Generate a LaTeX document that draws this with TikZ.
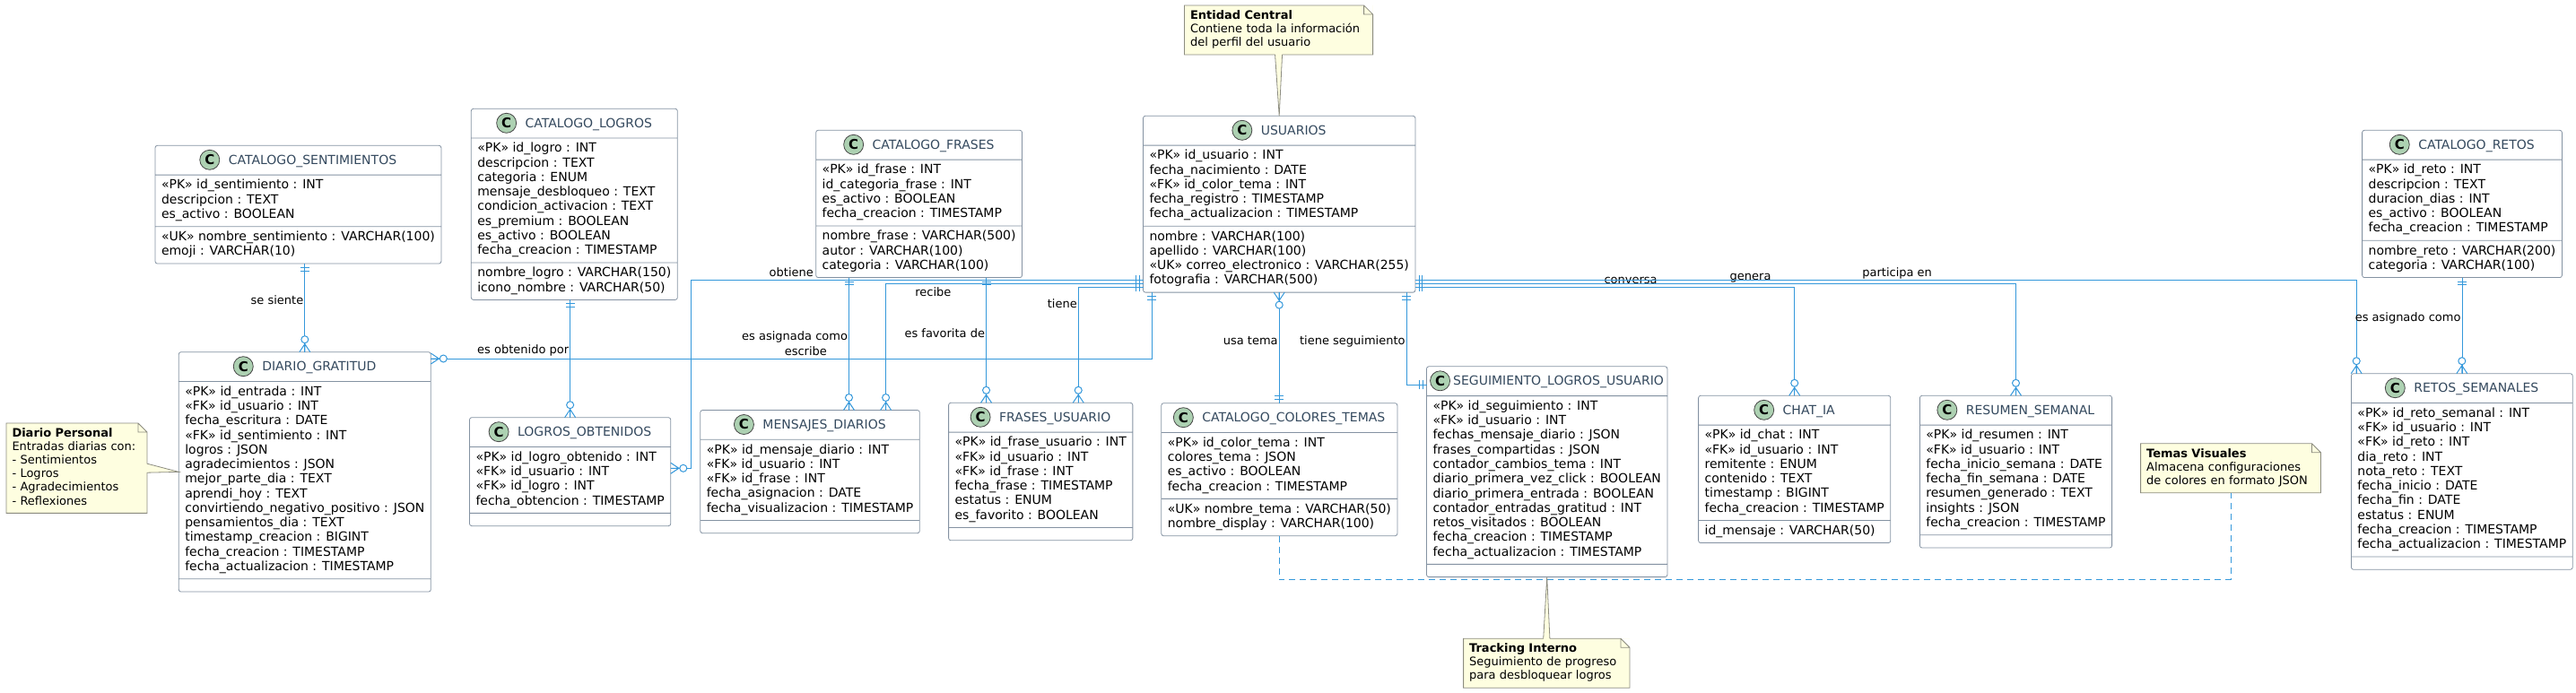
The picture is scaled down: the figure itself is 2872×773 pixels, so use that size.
\documentclass[tikz,border=0pt]{standalone}
\usepackage{fontspec}
\setmainfont{DejaVu Sans}
\usetikzlibrary{shapes.multipart,positioning,calc}

\definecolor{linea}{RGB}{52,152,219}
\definecolor{borde}{RGB}{132,146,162}
\definecolor{titulo}{RGB}{52,73,94}
\definecolor{verdeC}{RGB}{173,209,178}
\definecolor{bordeC}{RGB}{70,70,70}
\definecolor{notafondo}{RGB}{254,254,224}
\definecolor{notaborde}{RGB}{140,140,128}

\newcommand{\fuente}{\fontsize{14pt}{16.27pt}\selectfont}
\newcommand{\fuenteN}{\fontsize{13pt}{15.13pt}\selectfont}
\newcommand{\filas}[1]{\strut#1\strut}

% tabla: [hueco] nombre, posicion, ancho, titulo, campos, claves
\newcommand{\tabla}[7][10pt]{%
  \node[tabla, minimum width=#4pt] (#2) at (#3) {\rule[-6.9pt]{0pt}{24pt}\hspace*{1pt}\nodepart{two}\filas{#6}\nodepart{three}\if\relax\detokenize{#7}\relax\else\filas{#7}\fi};
  \node[titulo, anchor=base] (#2T) at ([xshift={11pt+0.5*#1}, yshift=-21.1pt]#2.north) {#5};
  \node[claseC, left=#1 of #2T] (#2C) {C};
}

% nota: nombre, posicion, ancho del texto, texto
\newcommand{\nota}[4]{%
  \node[nota, text width=#3pt] (#1) at (#2) {\strut#4\strut};
  \fill[white] ([xshift=-10pt]#1.north east) -- (#1.north east) -- ([yshift=-10pt]#1.north east) -- cycle;
  \draw[notaborde, line width=0.8pt] (#1.south west) -- (#1.north west) -- ([xshift=-10pt]#1.north east)
    -- ([yshift=-10pt]#1.north east) -- (#1.south east) -- cycle
    ([xshift=-10pt]#1.north east) |- ([yshift=-10pt]#1.north east);
}

\begin{document}
\begin{tikzpicture}[x=1pt, y=-1pt,
  tabla/.style={rectangle split, rectangle split parts=3, rectangle split part align={center,left,left},
    rectangle split empty part height=0pt, rectangle split empty part depth=0pt,
    draw=borde, line width=0.8pt, fill=white, rounded corners=2.5pt,
    inner xsep=7pt, inner ysep=4pt, outer sep=0pt, anchor=north west, align=left, font=\fuente},
  titulo/.style={text=titulo, font=\fuente, inner sep=0pt, outer sep=0pt, text height=10.2pt, text depth=0pt},
  claseC/.style={circle, draw=bordeC, fill=verdeC, line width=0.8pt, minimum size=22pt, inner sep=0pt,
    outer sep=0pt, font=\fontsize{15pt}{15pt}\selectfont\bfseries},
  nota/.style={fill=notafondo, inner xsep=6.5pt, inner ysep=4.8pt, outer sep=0pt, anchor=north west,
    align=left, font=\fuenteN},
  rel/.style={draw=linea, line width=1pt},
  etq/.style={font=\fuenteN, inner sep=1pt},
  uno/.pic={\draw[linea, line width=1pt] (4.5,-5) -- (4.5,5) (8,-5) -- (8,5);},
  muchos/.pic={\draw[linea, line width=1pt] (0,-6) -- (9,0) -- (0,6) (0,0) -- (10,0);
    \draw[linea, line width=1pt, fill=white] (14,0) circle[radius=4pt];}]

\fill[white] (0,0) rectangle (2872,773);
\useasboundingbox (0,0) rectangle (2872,773);

% catalogos y entidad central
\tabla{sen}{173,162.3}{317.3}{CATALOGO\_SENTIMIENTOS}{«PK» id\_sentimiento : INT\\ descripcion : TEXT\\ es\_activo : BOOLEAN}{«UK» nombre\_sentimiento : VARCHAR(100)\\ emoji : VARCHAR(10)}
\tabla{log}{525.3,121.3}{229}{CATALOGO\_LOGROS}{«PK» id\_logro : INT\\ descripcion : TEXT\\ categoria : ENUM\\ mensaje\_desbloqueo : TEXT\\ condicion\_activacion : TEXT\\ es\_premium : BOOLEAN\\ es\_activo : BOOLEAN\\ fecha\_creacion : TIMESTAMP}{nombre\_logro : VARCHAR(150)\\ icono\_nombre : VARCHAR(50)}
\tabla{fra}{909.7,145.3}{227.6}{CATALOGO\_FRASES}{«PK» id\_frase : INT\\ id\_categoria\_frase : INT\\ es\_activo : BOOLEAN\\ fecha\_creacion : TIMESTAMP}{nombre\_frase : VARCHAR(500)\\ autor : VARCHAR(100)\\ categoria : VARCHAR(100)}
\tabla{usu}{1274.5,129.3}{301.8}{USUARIOS}{«PK» id\_usuario : INT\\ fecha\_nacimiento : DATE\\ «FK» id\_color\_tema : INT\\ fecha\_registro : TIMESTAMP\\ fecha\_actualizacion : TIMESTAMP}{nombre : VARCHAR(100)\\ apellido : VARCHAR(100)\\ «UK» correo\_electronico : VARCHAR(255)\\ fotografia : VARCHAR(500)}
\tabla{ret}{2633.6,145.3}{220.4}{CATALOGO\_RETOS}{«PK» id\_reto : INT\\ descripcion : TEXT\\ duracion\_dias : INT\\ es\_activo : BOOLEAN\\ fecha\_creacion : TIMESTAMP}{nombre\_reto : VARCHAR(200)\\ categoria : VARCHAR(100)}

% tablas de detalle
\tabla{dia}{199.3,392.7}{277}{DIARIO\_GRATITUD}{«PK» id\_entrada : INT\\ «FK» id\_usuario : INT\\ fecha\_escritura : DATE\\ «FK» id\_sentimiento : INT\\ logros : JSON\\ agradecimientos : JSON\\ mejor\_parte\_dia : TEXT\\ aprendi\_hoy : TEXT\\ convirtiendo\_negativo\_positivo : JSON\\ pensamientos\_dia : TEXT\\ timestamp\_creacion : BIGINT\\ fecha\_creacion : TIMESTAMP\\ fecha\_actualizacion : TIMESTAMP}{}
\tabla{lob}{523.5,465.7}{221.2}{LOGROS\_OBTENIDOS}{«PK» id\_logro\_obtenido : INT\\ «FK» id\_usuario : INT\\ «FK» id\_logro : INT\\ fecha\_obtencion : TIMESTAMP}{}
\tabla{men}{780.8,457.5}{241.2}{MENSAJES\_DIARIOS}{«PK» id\_mensaje\_diario : INT\\ «FK» id\_usuario : INT\\ «FK» id\_frase : INT\\ fecha\_asignacion : DATE\\ fecha\_visualizacion : TIMESTAMP}{}
\tabla{fus}{1057.6,449.3}{201.4}{FRASES\_USUARIO}{«PK» id\_frase\_usuario : INT\\ «FK» id\_usuario : INT\\ «FK» id\_frase : INT\\ fecha\_frase : TIMESTAMP\\ estatus : ENUM\\ es\_favorito : BOOLEAN}{}
\tabla{col}{1294.8,449.7}{260.6}{CATALOGO\_COLORES\_TEMAS}{«PK» id\_color\_tema : INT\\ colores\_tema : JSON\\ es\_activo : BOOLEAN\\ fecha\_creacion : TIMESTAMP}{«UK» nombre\_tema : VARCHAR(50)\\ nombre\_display : VARCHAR(100)}
\tabla[3.6pt]{seg}{1590.5,408.8}{267}{SEGUIMIENTO\_LOGROS\_USUARIO}{«PK» id\_seguimiento : INT\\ «FK» id\_usuario : INT\\ fechas\_mensaje\_diario : JSON\\ frases\_compartidas : JSON\\ contador\_cambios\_tema : INT\\ diario\_primera\_vez\_click : BOOLEAN\\ diario\_primera\_entrada : BOOLEAN\\ contador\_entradas\_gratitud : INT\\ retos\_visitados : BOOLEAN\\ fecha\_creacion : TIMESTAMP\\ fecha\_actualizacion : TIMESTAMP}{}
\tabla{cha}{1893.6,441.3}{211.4}{CHAT\_IA}{«PK» id\_chat : INT\\ «FK» id\_usuario : INT\\ remitente : ENUM\\ contenido : TEXT\\ timestamp : BIGINT\\ fecha\_creacion : TIMESTAMP}{id\_mensaje : VARCHAR(50)}
\tabla{res}{2140.4,441.3}{211.7}{RESUMEN\_SEMANAL}{«PK» id\_resumen : INT\\ «FK» id\_usuario : INT\\ fecha\_inicio\_semana : DATE\\ fecha\_fin\_semana : DATE\\ resumen\_generado : TEXT\\ insights : JSON\\ fecha\_creacion : TIMESTAMP}{}
\tabla{rse}{2621.4,416.7}{245.2}{RETOS\_SEMANALES}{«PK» id\_reto\_semanal : INT\\ «FK» id\_usuario : INT\\ «FK» id\_reto : INT\\ dia\_reto : INT\\ nota\_reto : TEXT\\ fecha\_inicio : DATE\\ fecha\_fin : DATE\\ estatus : ENUM\\ fecha\_creacion : TIMESTAMP\\ fecha\_actualizacion : TIMESTAMP}{}

% notas
\nota{nDia}{7,472}{144}{\textbf{Diario Personal}\\ Entradas diarias con:\\ - Sentimientos\\ - Logros\\ - Agradecimientos\\ - Reflexiones}
\nota{nCen}{1320.5,6}{197.1}{\textbf{Entidad Central}\\ Contiene toda la información\\ del perfil del usuario}
\nota{nTra}{1631.6,712.3}{172.4}{\textbf{Tracking Interno}\\ Seguimiento de progreso\\ para desbloquear logros}
\nota{nTem}{2386.6,494.7}{187.8}{\textbf{Temas Visuales}\\ Almacena configuraciones\\ de colores en formato JSON}

% puntos de enganche
\coordinate (usuW1) at ([yshift=-183pt]usu.north west);
\coordinate (usuW2) at ([yshift=-187pt]usu.north west);
\coordinate (usuW3) at ([yshift=-191pt]usu.north west);
\coordinate (usuE1) at ([yshift=-183pt]usu.north east);
\coordinate (usuE2) at ([yshift=-187pt]usu.north east);
\coordinate (usuE3) at ([yshift=-191pt]usu.north east);
\coordinate (usuB1) at ([xshift=9.7pt]usu.south west);
\coordinate (usuB3) at ([xshift=-9.8pt]usu.south east);
\coordinate (fraB1) at ([xshift=36.8pt]fra.south west);
\coordinate (fraB2) at ([xshift=-40pt]fra.south east);
\coordinate (menT2) at ([xshift=-37.7pt]men.north east);
\coordinate (fusT2) at ([xshift=-60.6pt]fus.north east);
\coordinate (rseT1) at ([xshift=5.8pt]rse.north west);
\coordinate (lobE) at ([yshift=-56.6pt]lob.north east);
\coordinate (diaE) at ([yshift=-7.3pt]dia.north east);
\coordinate (segW) at ([yshift=-20.5pt]seg.north west);

% relaciones
\draw[rel] (dia.north |- sen.south) -- node[etq, pos=0.41, anchor=east] (eSiente) {se siente} (dia.north);
\draw[rel] (lob.north |- log.south) -- node[etq, pos=0.434, anchor=east] (eObtenido) {es obtenido por} (lob.north);
\draw[rel] (usuW1) -| node[etq, pos=0.389, anchor=base, yshift=4pt] (eObtiene) {obtiene} ([xshift=22.6pt]lobE) -- (lobE);
\draw[rel] (usuW2) -| node[etq, pos=0.408, anchor=base, yshift=-14pt] (eRecibe) {recibe} (menT2);
\draw[rel] (fraB1) -- node[etq, pos=0.451, anchor=east] (eAsignada) {es asignada como} (fraB1 |- men.north);
\draw[rel] (usuW3) -| node[etq, pos=0.572, anchor=east] (eTiene) {tiene} (fusT2);
\draw[rel] (fraB2) -- node[etq, pos=0.445, anchor=east] (eFavorita) {es favorita de} (fraB2 |- fus.north);
\draw[rel] (usuB1) |- node[etq, pos=0.74, anchor=base, yshift=4pt] (eEscribe) {escribe} (diaE);
\draw[rel] (usu.south) -- node[etq, pos=0.433, anchor=east] (eTema) {usa tema} (usu.south |- col.north);
\draw[rel] (usuB3) |- node[etq, pos=0.267, anchor=east] (eSeguim) {tiene seguimiento} (segW);
\draw[rel] (usuE3) -| node[etq, pos=0.284, anchor=base, yshift=4pt] (eConversa) {conversa} (cha.north);
\draw[rel] (usuE2) -| node[etq, pos=0.279, anchor=base, yshift=4pt] (eGenera) {genera} (res.north);
\draw[rel] (usuE1) -| node[etq, pos=0.256, anchor=base, yshift=4pt] (eParticipa) {participa en} (rseT1);
\draw[rel] (ret.south) -- node[etq, pos=0.421, anchor=east] (eAsignado) {es asignado como} (ret.south |- rse.north);
\draw[rel, dash pattern=on 7pt off 5pt] (col.south) -- ++(0,49) -| (nTem.south);

% cardinalidades
\pic[rotate=-90] at (dia.north |- sen.south) {uno};
\pic[rotate=90] at (dia.north) {muchos};
\pic[rotate=-90] at (lob.north |- log.south) {uno};
\pic[rotate=90] at (lob.north) {muchos};
\pic[rotate=180] at (usuW1) {uno};
\pic at (lobE) {muchos};
\pic[rotate=180] at (usuW2) {uno};
\pic[rotate=90] at (menT2) {muchos};
\pic[rotate=-90] at (fraB1) {uno};
\pic[rotate=90] at (fraB1 |- men.north) {muchos};
\pic[rotate=180] at (usuW3) {uno};
\pic[rotate=90] at (fusT2) {muchos};
\pic[rotate=-90] at (fraB2) {uno};
\pic[rotate=90] at (fraB2 |- fus.north) {muchos};
\pic[rotate=-90] at (usuB1) {uno};
\pic at (diaE) {muchos};
\pic[rotate=-90] at (usu.south) {muchos};
\pic[rotate=90] at (usu.south |- col.north) {uno};
\pic[rotate=-90] at (usuB3) {uno};
\pic[rotate=180] at (segW) {uno};
\pic at (usuE1) {uno};
\pic at (usuE2) {uno};
\pic at (usuE3) {uno};
\pic[rotate=90] at (cha.north) {muchos};
\pic[rotate=90] at (res.north) {muchos};
\pic[rotate=90] at (rseT1) {muchos};
\pic[rotate=-90] at (ret.south) {uno};
\pic[rotate=90] at (rse.north) {muchos};

% punteros de las notas
\fill[notafondo] ([xshift=-1pt, yshift=5pt]nDia.east) -- (dia.west) -- ([xshift=-1pt, yshift=-5pt]nDia.east) -- cycle;
\draw[notaborde, line width=0.8pt] ([yshift=5pt]nDia.east) -- (dia.west) -- ([yshift=-5pt]nDia.east);
\fill[notafondo] ([xshift=-4pt, yshift=1pt]nCen.south) -- (usu.north) -- ([xshift=4pt, yshift=1pt]nCen.south) -- cycle;
\draw[notaborde, line width=0.8pt] ([xshift=-4pt]nCen.south) -- (usu.north) -- ([xshift=4pt]nCen.south);
\fill[notafondo] ([xshift=-3.6pt, yshift=-1pt]nTra.north) -- (seg.south) -- ([xshift=3.6pt, yshift=-1pt]nTra.north) -- cycle;
\draw[notaborde, line width=0.8pt] ([xshift=-3.6pt]nTra.north) -- (seg.south) -- ([xshift=3.6pt]nTra.north);
\end{tikzpicture}
\end{document}
